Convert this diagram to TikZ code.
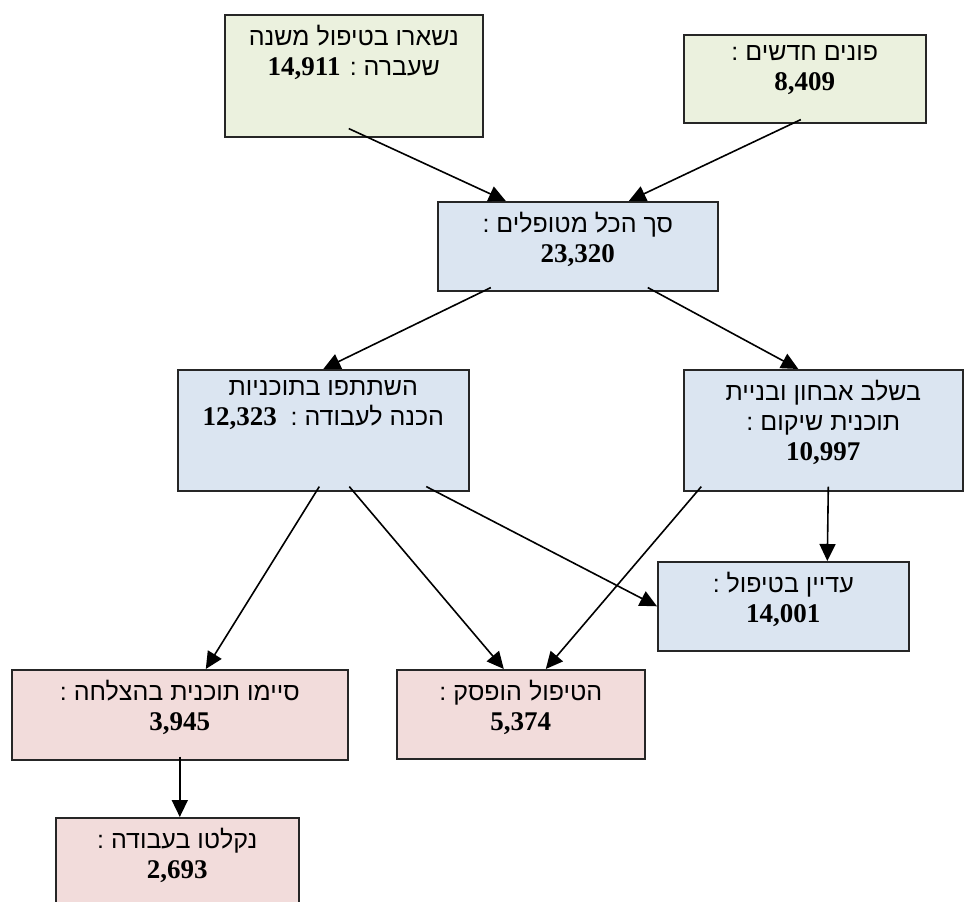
\documentclass[tikz,border=0pt]{standalone}
\usepackage{fontspec}
\usetikzlibrary{arrows.meta}
\TeXXeTstate=1
\newfontfamily\heb[Script=Hebrew]{Liberation Sans}
\newfontfamily\numfont{Liberation Serif}
\newcommand\nb[1]{\beginL{\numfont\bfseries\fontsize{27}{30}\selectfont #1}\endL}
\definecolor{gfill}{HTML}{EBF1DE}
\definecolor{bfill}{HTML}{DBE5F1}
\definecolor{pfill}{HTML}{F2DCDB}
\begin{document}
\begin{tikzpicture}[x=1pt,y=-1pt,
  box/.style={draw=black!85, line width=1.6pt, inner sep=0pt, rectangle, anchor=north west},
  txt/.style={align=center, font=\heb\fontsize{25}{30}\selectfont, inner sep=0pt, anchor=north},
  arr/.style={line width=1.6pt, -{Triangle[length=17pt,width=16pt]}}]
\useasboundingbox (0,0) rectangle (964,902);
% boxes
\node[box, fill=gfill, minimum width=258pt, minimum height=122pt] (b1) at (224,14) {};
\node[box, fill=gfill, minimum width=242pt, minimum height=88pt] (b2) at (683,34) {};
\node[box, fill=bfill, minimum width=280pt, minimum height=89pt] (b3) at (437,201) {};
\node[box, fill=bfill, minimum width=291pt, minimum height=121pt] (b4) at (177,369) {};
\node[box, fill=bfill, minimum width=279pt, minimum height=121pt] (b5) at (683,369) {};
\node[box, fill=bfill, minimum width=251pt, minimum height=89pt] (b6) at (657,561) {};
\node[box, fill=pfill, minimum width=336pt, minimum height=90pt] (b7) at (11,669) {};
\node[box, fill=pfill, minimum width=248pt, minimum height=89pt] (b8) at (396,669) {};
\node[box, fill=pfill, minimum width=243pt, minimum height=100pt] (b9) at (55,817) {};
% texts
\node[txt] (t1) at ([yshift=-11pt]b1.north) {\beginR נשארו בטיפול משנה\endR\\\beginR שעברה : \nb{14,911}\endR};
\node[txt] (t2) at ([yshift=-11pt]b2.north) {\beginR פונים חדשים :\endR\\\nb{8,409}};
\node[txt] (t3) at ([yshift=-11pt]b3.north) {\beginR סך הכל מטופלים :\endR\\\nb{23,320}};
\node[txt] (t4) at ([yshift=-11pt]b4.north) {\beginR השתתפו בתוכניות\endR\\\beginR הכנה לעבודה :\ \ \nb{12,323}\endR};
\node[txt] (t5) at ([yshift=-11pt]b5.north) {\beginR בשלב אבחון ובניית\endR\\\beginR תוכנית שיקום :\endR\\\nb{10,997}};
\node[txt] (t6) at ([yshift=-11pt]b6.north) {\beginR עדיין בטיפול :\endR\\\nb{14,001}};
\node[txt] (t7) at ([yshift=-11pt]b7.north) {\beginR סיימו תוכנית בהצלחה :\endR\\\nb{3,945}};
\node[txt] (t8) at ([yshift=-11pt]b8.north) {\beginR הטיפול הופסק :\endR\\\nb{5,374}};
\node[txt] (t9) at ([yshift=-11pt]b9.north) {\beginR נקלטו בעבודה :\endR\\\nb{2,693}};
% arrows
\draw[arr] ([xshift=-5pt,yshift=9pt]b1.south) -- ([xshift=-72pt]b3.north);
\draw[arr] ([xshift=-4pt,yshift=4pt]b2.south) -- ([xshift=51pt]b3.north);
\draw[arr] ([xshift=-87pt,yshift=4pt]b3.south) -- (b4.north);
\draw[arr] ([xshift=70pt,yshift=4pt]b3.south) -- ([xshift=-25pt]b5.north);
\draw[arr] ([xshift=-4pt,yshift=5pt]b4.south) -- ([xshift=26pt]b7.north);
\draw[arr] ([xshift=26pt,yshift=5pt]b4.south) -- ([xshift=-17pt]b8.north);
\draw[arr] ([xshift=103pt,yshift=5pt]b4.south) -- (b6.west);
\draw[arr] ([xshift=-122pt,yshift=5pt]b5.south) -- ([xshift=25pt]b8.north);
\draw[arr] ([xshift=5pt,yshift=5pt]b5.south) -- ([xshift=44pt]b6.north);
\draw[arr] ([yshift=4pt]b7.south) -- (b7.south |- b9.north);
\end{tikzpicture}
\end{document}
